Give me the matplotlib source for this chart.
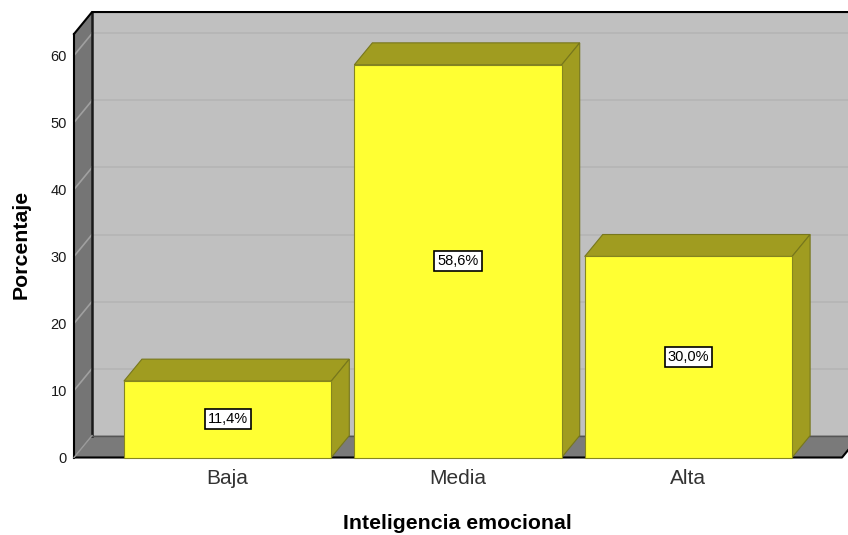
import matplotlib
matplotlib.use("Agg")
import matplotlib.pyplot as plt
from matplotlib.patches import Polygon, Rectangle

plt.rcParams['font.family'] = ['Liberation Sans', 'DejaVu Sans']

# Datos
categorias = ["Baja", "Media", "Alta"]
porcentajes = [11.4, 58.6, 30.0]
etiquetas = ["11,4%", "58,6%", "30,0%"]
ticks_y = [0, 10, 20, 30, 40, 50, 60]

W, H = 848, 535
fig = plt.figure(figsize=(W / 100, H / 100), dpi=100)
# ejes en pixeles de la imagen: frente del grafico
izq, der, arriba, abajo = 74, 842, 34, 457.5
ax = fig.add_axes([izq / W, 1 - abajo / H, (der - izq) / W, (abajo - arriba) / H])
ax.set_xlim(-2 / 3, 2 + 2 / 3)
ax.set_ylim(0, 63.2)
ax.patch.set_visible(False)

x0, x1 = ax.get_xlim()
y0, y1 = ax.get_ylim()
# profundidad del efecto 3D, en unidades de datos
dx = 18 / 230
dy = 22 / 6.71
ancho = 0.9


def poligono(puntos, color, borde="none", lw=0.8, z=1):
    ax.add_patch(Polygon(puntos, closed=True, facecolor=color, edgecolor=borde,
                         linewidth=lw, clip_on=False, zorder=z))


# paredes y piso
poligono([(x0 + dx, y0 + dy), (x1 + dx, y0 + dy), (x1 + dx, y1 + dy), (x0 + dx, y1 + dy)], "#c0c0c0", z=1)
poligono([(x0, y0), (x0 + dx, y0 + dy), (x0 + dx, y1 + dy), (x0, y1)], "#757575", z=1)
poligono([(x0, y0), (x1, y0), (x1 + dx, y0 + dy), (x0 + dx, y0 + dy)], "#7a7a7a", z=1)

# lineas de la cuadricula
for t in ticks_y[1:]:
    ax.plot([x0 + dx, x1 + dx], [t + dy, t + dy], color="#b4b4b4", lw=1.2, zorder=2, clip_on=False)
    ax.plot([x0, x0 + dx], [t, t + dy], color="#a0a0a0", lw=1.2, zorder=2, clip_on=False)

# bordes
ax.plot([x0 + dx, x0 + dx], [y0 + dy, y1 + dy], color="#1a1a1a", lw=1.8, zorder=3, clip_on=False)
ax.plot([x0 + dx, x1 + dx], [y0 + dy, y0 + dy], color="#555555", lw=1, zorder=3, clip_on=False)
ax.plot([x0, x0 + dx, x1 + dx], [y1, y1 + dy, y1 + dy], color="black", lw=1.5, zorder=3, clip_on=False)
ax.plot([x0, x0], [y0, y1], color="black", lw=1.5, zorder=3, clip_on=False)
ax.plot([x0, x1, x1 + dx], [y0, y0, y0 + dy], color="black", lw=1.5, zorder=3, clip_on=False)
ax.plot([x0, x0 + dx], [y0, y0 + dy], color="#9a9a9a", lw=1, zorder=3, clip_on=False)

# barras
for i, v in enumerate(porcentajes):
    a = i - ancho / 2
    b = i + ancho / 2
    poligono([(a, v), (b, v), (b + dx, v + dy), (a + dx, v + dy)], "#a09c20", "#77771c", z=4)
    poligono([(b, y0), (b + dx, y0 + dy), (b + dx, v + dy), (b, v)], "#a09c20", "#77771c", z=4)
    ax.add_patch(Rectangle((a, y0), ancho, v, facecolor="#ffff33", edgecolor="#85851f",
                           linewidth=0.8, zorder=5, clip_on=False))
    ax.text(i, v / 2, etiquetas[i], ha="center", va="center", fontsize=10.5, color="black", zorder=6,
            bbox=dict(boxstyle="square,pad=0.2", facecolor="white", edgecolor="black", linewidth=1.2))

ax.set_xticks(range(len(categorias)))
ax.set_xticklabels(categorias, fontsize=15, color="#333333")
ax.set_yticks(ticks_y)
ax.tick_params(axis="y", length=0, labelsize=10.5, pad=5, labelcolor="#1a1a1a")
ax.tick_params(axis="x", length=0, pad=8.5)
for s in ax.spines.values():
    s.set_visible(False)

fig.text(457 / W, 1 - 523.5 / H, "Inteligencia emocional", ha="center", va="center",
         fontsize=15.3, fontweight="bold")
fig.text(21 / W, 1 - 244.5 / H, "Porcentaje", ha="center", va="center", rotation=90,
         fontsize=15.3, fontweight="bold")

fig.savefig("out.png", dpi=100)
